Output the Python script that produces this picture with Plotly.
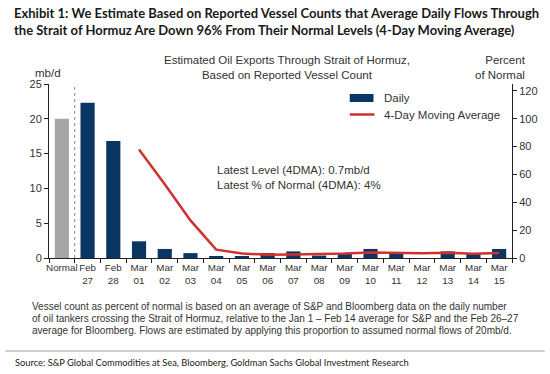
import plotly.graph_objects as go

categories = ["Normal", "Feb<br>27", "Feb<br>28", "Mar<br>01", "Mar<br>02", "Mar<br>03", "Mar<br>04",
              "Mar<br>05", "Mar<br>06", "Mar<br>07", "Mar<br>08", "Mar<br>09", "Mar<br>10", "Mar<br>11",
              "Mar<br>12", "Mar<br>13", "Mar<br>14", "Mar<br>15"]
normal_category = categories[:1]
normal_mbd = [20.0]
daily_categories = categories[1:]
daily_mbd = [22.3, 16.8, 2.4, 1.3, 0.7, 0.15, 0.15, 0.7, 0.95, 0.35, 0.57, 1.3, 0.8, 0.0, 0.95, 0.7, 1.3]
ma_categories = categories[3:]
ma_pct_of_normal = [78, 53, 27, 6.0, 3.2, 2.4, 2.5, 2.7, 3.2, 4.0, 3.8, 3.4, 3.8, 3.1, 3.6]

NAVY = "#0B3563"
GREY = "#A6A6A6"
RED = "#D0312D"
TXT = "#333333"

# plot area in pixels: x 49..517, y 84..258
def px(x):
    return (x - 49) / 468

def py(y):
    return (258 - y) / 174

fig = go.Figure()
fig.add_trace(go.Bar(x=normal_category, y=normal_mbd, marker=dict(color=GREY, line=dict(width=0)),
                     width=0.55, showlegend=False, yaxis="y"))
fig.add_trace(go.Bar(x=daily_categories, y=daily_mbd, marker=dict(color=NAVY, line=dict(width=0)),
                     width=0.55, name="Daily", yaxis="y", showlegend=False))
fig.add_trace(go.Scatter(x=ma_categories, y=ma_pct_of_normal, mode="lines", name="4-Day Moving Average",
                         line=dict(color=RED, width=2.5), yaxis="y2", showlegend=False))

fig.update_layout(
    width=550, height=374,
    margin=dict(l=49, r=33, t=84, b=116),
    paper_bgcolor="white", plot_bgcolor="white",
    font=dict(family="Liberation Sans, Arial", size=11, color=TXT),
    barmode="overlay",
    xaxis=dict(type="category", categoryorder="array", categoryarray=categories,
               range=[-0.5, 17.5], showline=True, linecolor="#222", linewidth=1,
               ticks="outside", ticklen=4, tickcolor="#222", tickson="boundaries", tickangle=0,
               tickfont=dict(size=9.8, color=TXT), showgrid=False, zeroline=False),
    yaxis=dict(range=[0, 25], tickvals=[0, 5, 10, 15, 20, 25], showline=True, linecolor="#222",
               linewidth=1, ticks="outside", ticklen=4, tickcolor="#222", showgrid=False,
               zeroline=False, tickfont=dict(size=11, color=TXT)),
    yaxis2=dict(range=[0, 125], tickvals=[0, 20, 40, 60, 80, 100, 120], overlaying="y", side="right",
                showline=True, linecolor="#222", linewidth=1, ticks="outside", ticklen=4,
                tickcolor="#222", showgrid=False, zeroline=False, tickfont=dict(size=11, color=TXT)),
    showlegend=False,
)

# separator between Normal and daily bars
fig.add_shape(type="line", xref="x", yref="paper", x0=0.5, x1=0.5, y0=0, y1=1,
              line=dict(color="#888", width=1, dash="dot"))
# horizontal rule above source
fig.add_shape(type="line", xref="paper", yref="paper", x0=px(5), x1=px(550),
              y0=py(351), y1=py(351), line=dict(color="#A0A0A0", width=1))
# legend keys
fig.add_shape(type="rect", xref="paper", yref="paper", x0=px(353), x1=px(377), y0=py(102), y1=py(94),
              fillcolor=NAVY, line=dict(width=0))
fig.add_shape(type="line", xref="paper", yref="paper", x0=px(353), x1=px(378), y0=py(114.5), y1=py(114.5),
              line=dict(color=RED, width=2.5))

footnote_lines = [
    "Vessel count as percent of normal is based on an average of S&P and Bloomberg data on the daily number",
    "of oil tankers crossing the Strait of Hormuz, relative to the Jan 1 \u2013 Feb 14 average for S&P and the Feb 26\u201327",
    "average for Bloomberg. Flows are estimated by applying this proportion to assumed normal flows of 20mb/d.",
]

ann = [
    dict(text="<b>Exhibit 1: We Estimate Based on Reported Vessel Counts that Average Daily Flows Through<br>"
              "the Strait of Hormuz Are Down 96% From Their Normal Levels (4-Day Moving Average)</b>",
         x=px(12), y=py(3), xanchor="left", yanchor="top", align="left",
         font=dict(family="Lato", size=13, color="#1a1a1a")),
    dict(text="Estimated Oil Exports Through Strait of Hormuz,<br>Based on Reported Vessel Count",
         x=px(290), y=py(67), xanchor="center", yanchor="middle", font=dict(size=11.5)),
    dict(text="mb/d", x=px(48), y=py(73), xanchor="center", yanchor="middle", font=dict(size=11.5)),
    dict(text="Percent<br>of Normal", x=px(533), y=py(67), xanchor="right",
         yanchor="middle", align="right", font=dict(size=11.5)),
    dict(text="Latest Level (4DMA): 0.7mb/d<br>Latest % of Normal (4DMA): 4%",
         x=px(217), y=py(177), xanchor="left", yanchor="middle", align="left", font=dict(size=11.5)),
    dict(text="Daily", x=px(386), y=py(98), xanchor="left", yanchor="middle", font=dict(size=11.5)),
    dict(text="4-Day Moving Average", x=px(386), y=py(115), xanchor="left", yanchor="middle",
         font=dict(size=11.5)),
    dict(text="Source: S&P Global Commodities at Sea, Bloomberg, Goldman Sachs Global Investment Research",
         x=px(13), y=py(362), xanchor="left", yanchor="middle", align="left",
         font=dict(family="Lato", size=9.3, color="#1a1a1a")),
]
for i, line in enumerate(footnote_lines):
    ann.append(dict(text=line, x=px(30), y=py([306, 318, 330][i]), xanchor="left", yanchor="middle",
                    align="left", font=dict(size=10)))
for a in ann:
    a.update(xref="paper", yref="paper", showarrow=False)
    fig.add_annotation(**a)

fig.write_html("out.html", config={"displayModeBar": False},
               post_script="document.body.style.margin='0px';")
